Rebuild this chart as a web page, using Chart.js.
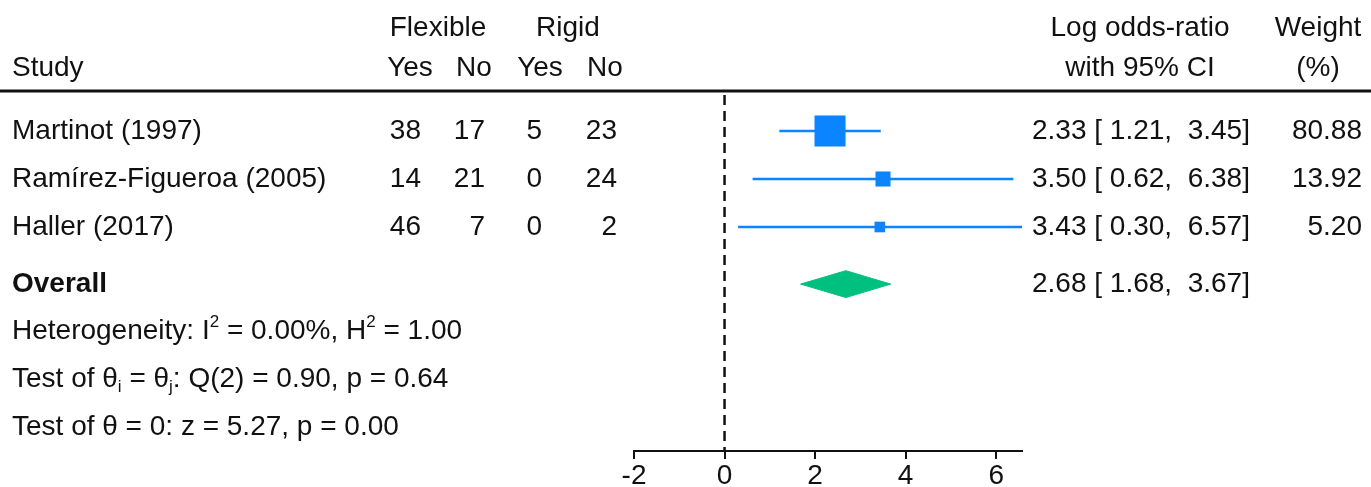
<!DOCTYPE html>
<html lang="en">
<head>
<meta charset="UTF-8">
<title>Forest plot</title>
<script src="https://cdn.jsdelivr.net/npm/chart.js"></script>
<style>
  html, body { margin: 0; padding: 0; background: #fff; }
  #wrap { width: 1371px; height: 487px; }
</style>
</head>
<body>
<div id="wrap"><canvas id="forest" width="1371" height="487"></canvas></div>
<script>
// study data
const studies = ['Martinot (1997)', 'Ramírez-Figueroa (2005)', 'Haller (2017)'];
const flexYes = [38, 14, 46];
const flexNo = [17, 21, 7];
const rigidYes = [5, 0, 0];
const rigidNo = [23, 24, 2];
const estimate = [2.33, 3.50, 3.43];
const lower = [1.21, 0.62, 0.30];
const upper = [3.45, 6.38, 6.57];
const weight = [80.88, 13.92, 5.20];
// overall: estimate, lower, upper
const overall = [2.68, 1.68, 3.67];
const xTicks = [-2, 0, 2, 4, 6];

// footer lines, [text, 0 normal / 1 superscript / -1 subscript]
const footer = [
    [['Heterogeneity: I', 0], ['2', 1], [' = 0.00%, H', 0], ['2', 1], [' = 1.00', 0]],
    [['Test of \u03b8', 0], ['i', -1], [' = \u03b8', 0], ['j', -1], [': Q(2) = 0.90, p = 0.64', 0]],
    [['Test of \u03b8 = 0: z = 5.27, p = 0.00', 0]]
];

// layout (row units, 48px each)
const studyRows = [1, 2, 3];
const overallRow = 4.19;
const footerRows = [5.17, 6.17, 7.17];
const headRows = [-1.146, -0.313];
const yMin = 0.1667, yMax = 7.667;

const FONT = '"Liberation Sans", Arial, Helvetica, sans-serif';
const BLUE = '#0a84ff';
const GREEN = '#00c07f';
const INK = '#111';

const fmt = v => v.toFixed(2);
const ciText = (e, l, u) => fmt(e) + ' [ ' + fmt(l) + ',  ' + fmt(u) + ']';

function drawRuns(ctx, x, y, runs) {
    for (const [t, mode] of runs) {
        ctx.font = (mode === 0 ? 28 : 17) + 'px ' + FONT;
        const dy = mode === 1 ? -9 : mode === -1 ? 8 : 0;
        ctx.fillText(t, x, y + dy);
        x += ctx.measureText(t).width;
    }
}

const tablePlugin = {
    id: 'table',
    afterDraw(chart) {
        const ctx = chart.ctx;
        const ys = chart.scales.y;
        const py = v => ys.getPixelForValue(v);
        ctx.save();
        ctx.fillStyle = INK;
        ctx.textBaseline = 'middle';
        const put = (t, x, y, align, bold) => {
            ctx.font = (bold ? 'bold ' : '') + '28px ' + FONT;
            ctx.textAlign = align || 'left';
            ctx.fillText(t, x, y);
        };

        // header
        put('Flexible', 438, py(headRows[0]), 'center');
        put('Rigid', 568, py(headRows[0]), 'center');
        put('Log odds-ratio', 1140, py(headRows[0]), 'center');
        put('Weight', 1318, py(headRows[0]), 'center');
        put('Study', 12, py(headRows[1]));
        put('Yes', 410, py(headRows[1]), 'center');
        put('No', 474, py(headRows[1]), 'center');
        put('Yes', 540, py(headRows[1]), 'center');
        put('No', 605, py(headRows[1]), 'center');
        put('with 95% CI', 1140, py(headRows[1]), 'center');
        put('(%)', 1318, py(headRows[1]), 'center');

        // rule under header
        ctx.fillRect(0, chart.chartArea.top - 1.5, chart.width, 3);

        // study rows
        studies.forEach((s, i) => {
            const y = py(studyRows[i]);
            put(s, 12, y);
            put(String(flexYes[i]), 421, y, 'right');
            put(String(flexNo[i]), 485, y, 'right');
            put(String(rigidYes[i]), 542, y, 'right');
            put(String(rigidNo[i]), 617, y, 'right');
            put(ciText(estimate[i], lower[i], upper[i]), 1032, y);
            put(fmt(weight[i]), 1362, y, 'right');
        });

        // overall
        put('Overall', 12, py(overallRow), 'left', true);
        put(ciText(overall[0], overall[1], overall[2]), 1032, py(overallRow));

        // footer
        ctx.textAlign = 'left';
        footer.forEach((runs, i) => drawRuns(ctx, 12, py(footerRows[i]), runs));
        ctx.restore();
    }
};

const half = 0.28; // diamond half height in rows
const datasets = [
    {
        type: 'scatter',
        data: estimate.map((e, i) => ({ x: e, y: studyRows[i] })),
        pointStyle: 'rect',
        pointRadius: weight.map(w => (3.7 + 3.04 * Math.sqrt(w)) / Math.SQRT2),
        backgroundColor: BLUE,
        borderWidth: 0
    },
    ...studies.map((s, i) => ({
        type: 'line',
        data: [{ x: lower[i], y: studyRows[i] }, { x: upper[i], y: studyRows[i] }],
        borderColor: BLUE,
        borderWidth: 2.5,
        pointRadius: 0
    })),
    {
        type: 'line',
        data: [
            { x: overall[1], y: overallRow },
            { x: overall[0], y: overallRow - half },
            { x: overall[2], y: overallRow },
            { x: overall[0], y: overallRow + half },
            { x: overall[1], y: overallRow }
        ],
        fill: 'shape',
        backgroundColor: GREEN,
        borderColor: GREEN,
        borderWidth: 1,
        pointRadius: 0,
        tension: 0
    },
    {
        type: 'line',
        data: [{ x: 0, y: 0.25 }, { x: 0, y: yMax }],
        borderColor: INK,
        borderWidth: 2.5,
        borderDash: [10, 6],
        pointRadius: 0
    }
];

new Chart(document.getElementById('forest'), {
    type: 'scatter',
    data: { datasets },
    plugins: [tablePlugin],
    options: {
        responsive: false,
        animation: false,
        layout: { padding: { left: 634, right: 349, top: 91, bottom: 0 } },
        plugins: { legend: { display: false }, tooltip: { enabled: false } },
        scales: {
            x: {
                type: 'linear',
                min: -2,
                max: Math.max(...upper),
                afterBuildTicks: s => { s.ticks = xTicks.map(v => ({ value: v })); },
                afterFit: s => { s.height = 36; },
                ticks: { font: { size: 28, family: FONT }, color: INK, padding: 0, maxRotation: 0, autoSkip: false },
                grid: { drawOnChartArea: false, tickLength: 8, color: INK, lineWidth: 2 },
                border: { color: INK, width: 2 }
            },
            y: { type: 'linear', min: yMin, max: yMax, reverse: true, display: false }
        }
    }
});
</script>
</body>
</html>
